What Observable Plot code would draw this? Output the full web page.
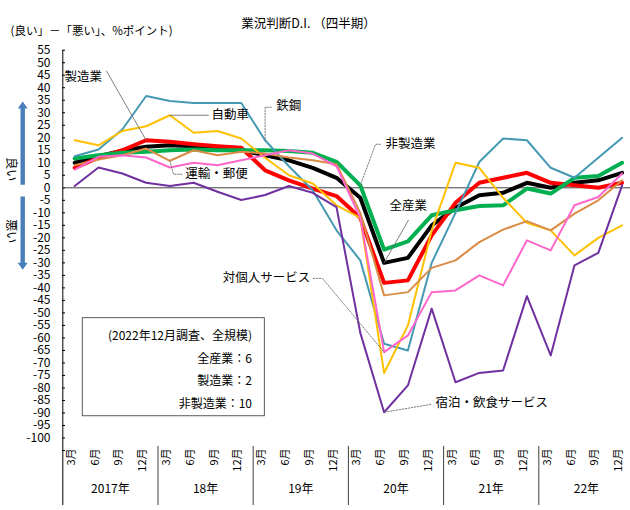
<!DOCTYPE html>
<html><head><meta charset="utf-8">
<script src="https://cdn.jsdelivr.net/npm/d3@7"></script>
<script src="https://cdn.jsdelivr.net/npm/@observablehq/plot@0.6"></script>
<style>html,body{margin:0;padding:0;background:#fff}#chart{width:630px;height:510px}</style>
</head><body><div id="chart"></div>
<script>
// ---- categories ----
const months = ["3月", "6月", "9月", "12月"];
const years = ["2017年", "18年", "19年", "20年", "21年", "22年"];
const quarters = years.flatMap((y, k) => months.map((m, j) => ({year: y, month: m, i: k * months.length + j})));

// ---- series (業況判断D.I., 全規模) ----
const allIndustries = [10, 12.6, 14.8, 16.4, 17, 16.6, 15.7, 15, 13, 11, 8, 4, -4, -30, -28, -15, -8, -3, -2, 2, 0, 2, 3, 6];
const manufacturing = [8, 12, 15, 19, 18.4, 17.4, 16.6, 16, 7, 3, -0.3, -3.3, -12, -38, -37, -19, -6, 2, 4, 6, 2, 1, 0, 2];
const nonManufacturing = [11.7, 13, 14, 14.4, 15, 15.3, 15, 15, 15, 14.7, 14, 10.4, 1, -24.7, -21.4, -11, -9, -7.3, -7, -0.3, -2.3, 4, 4.7, 10];
const automobiles = [19, 17, 22.7, 24.6, 29, 22, 22.7, 19.7, 12, 5, 1.7, -7, -12, -74, -55, -17, 10, 8, -4, -14, -17, -27, -20, -15];
const ironSteel = [12.6, 15.3, 23.3, 36.7, 34.7, 33.9, 33.9, 33.9, 19, 8.6, -1, -17, -29, -62.3, -65, -30, -10, 10.3, 19.7, 19, 8, 4, 12, 20];
const transport = [9, 11.3, 13, 15.7, 10.8, 15, 13, 14.4, 13.7, 12.1, 11, 9.4, -10, -43, -41.7, -32, -29, -21.7, -16.7, -13.3, -17, -10.3, -5, 3];
const personalServices = [7.3, 12.4, 13, 12.1, 8.1, 10, 9, 11, 13, 15, 13.7, 8.6, -12, -65.7, -59, -41.7, -41, -35, -39, -21, -25, -7, -3.7, 5.7];
const accommodation = [0.7, 8.1, 5.7, 2, 0.7, 2, -1.6, -4.9, -2.9, 0.7, -2, -7.7, -58, -89.7, -79, -48.3, -77.7, -74, -73, -43.3, -67, -31, -26, 1];

const yTicks = d3.range(-100, 56, 5);

const series = [
  {name: "全産業", values: allIndustries, color: "#000000", width: 4},
  {name: "製造業", values: manufacturing, color: "#FF0000", width: 4},
  {name: "非製造業", values: nonManufacturing, color: "#00B050", width: 4},
  {name: "鉄鋼", values: ironSteel, color: "#4599B3", width: 2},
  {name: "自動車", values: automobiles, color: "#FFC000", width: 2},
  {name: "運輸・郵便", values: transport, color: "#DA8B45", width: 2},
  {name: "対個人サービス", values: personalServices, color: "#FF66CC", width: 2},
  {name: "宿泊・飲食サービス", values: accommodation, color: "#7030A0", width: 2}
];

// ---- annotations (label position in data units, leader to a series point) ----
const annotations = [
  {text: "製造業", x: -0.43, y: 44.2, anchor: "start", leader: [[1.34, 46.6], [3, manufacturing[3]]], dash: null},
  {text: "自動車", x: 5.75, y: automobiles[4] + 0.2, anchor: "start", leader: [[4, automobiles[4]], [5.62, automobiles[4]]], dash: null},
  {text: "鉄鋼", x: 8.47, y: 32.6, anchor: "start", leader: [[8.26, 32.2], [8.0, 32.2], [8.0, ironSteel[8]]], dash: "1.5,1.5"},
  {text: "運輸・郵便", x: 4.65, y: 5.4, anchor: "start", leader: [[4, transport[4]], [4.15, 5.4], [4.53, 5.4]], dash: "1.5,1.5"},
  {text: "非製造業", x: 13.06, y: 17.4, anchor: "start", leader: [[12.85, 17.4], [12.64, 17.4], [12, nonManufacturing[12]]], dash: "1.5,1.5"},
  {text: "全産業", x: 13.23, y: -7.4, anchor: "start", leader: [[14.02, -13], [13, allIndustries[13]]], dash: null},
  {text: "対個人サービス", x: 9.9, y: -36.2, anchor: "end", leader: [[10.03, -36.2], [10.41, -36.2], [13, personalServices[13]]], dash: "1.5,1.5"},
  {text: "宿泊・飲食サービス", x: 15.16, y: -86.2, anchor: "start", leader: [[14.95, -86.6], [13, accommodation[13]]], dash: "1.5,1.5"}
];

const noteBox = {x1: 0.34, x2: 7.99, y1: -52.1, y2: -91.3};
const noteLines = [
  {text: "(2022年12月調査、全規模)", y: -59.4},
  {text: "全産業：6", y: -68.3},
  {text: "製造業：2", y: -77.4},
  {text: "非製造業：10", y: -86.6}
];
const noteX = 7.45;

const sideArrows = [{from: 1, to: 34.3}, {from: -3.7, to: -33}];
const sideLabels = [{text: "良い", y: 12.2}, {text: "悪い", y: -12.6}];

const FONT = "'Noto Sans CJK JP', 'Noto Sans', sans-serif";

function arrowMark(index, scales) {
  const ns = "http://www.w3.org/2000/svg";
  const g = document.createElementNS(ns, "g");
  for (const a of sideArrows) {
    const yt = scales.y(a.from), yh = scales.y(a.to);
    const dir = Math.sign(yh - yt);
    const cx = 22.7, sw = 2.2, hw = 5, hl = 7;
    const yb = yh - dir * hl;
    const pts = [[cx - sw, yt], [cx + sw, yt], [cx + sw, yb], [cx + hw, yb], [cx, yh], [cx - hw, yb], [cx - sw, yb]];
    const p = document.createElementNS(ns, "polygon");
    p.setAttribute("points", pts.map(q => q.join(",")).join(" "));
    p.setAttribute("fill", "#4A7EBB");
    g.appendChild(p);
  }
  return g;
}

const lineMarks = series.map(s => Plot.line(s.values.map((v, i) => ({i, v})), {
  x: "i", y: "v", stroke: s.color, strokeWidth: s.width, strokeLinejoin: "round", strokeLinecap: "round"
}));

const leaderMarks = annotations.map(a => Plot.line(a.leader.map(([x, y]) => ({x, y})), {
  x: "x", y: "y", stroke: "#707070", strokeWidth: 0.9, strokeDasharray: a.dash
}));

const labelMarks = ["start", "end"].map(anchor => Plot.text(annotations.filter(a => a.anchor === anchor), {
  x: "x", y: "y", text: "text", textAnchor: anchor, fontSize: 12.5, fill: "#000"
}));

const separators = d3.range(1, years.length + 1).map(k => k * months.length - 0.5);

const chart = Plot.plot({
  width: 630, height: 510,
  marginLeft: 62, marginRight: 0, marginTop: 50, marginBottom: 5,
  x: {type: "linear", domain: [-0.5, 23.5], range: [62.3, 633.5], axis: null},
  y: {domain: [-105, 55], range: [450, 49.7], axis: null},
  style: {fontFamily: FONT, background: "#fff", color: "#000", overflow: "visible"},
  marks: [
    // axis line and ticks
    Plot.ruleX([-0.5], {stroke: "#000", strokeWidth: 1}),
    Plot.ruleY([...yTicks, -105], {y: d => d, stroke: "#000", strokeWidth: 1, insetRight: 630 - 62 - 3}),
    Plot.text(yTicks, {y: d => d, text: d => String(d), frameAnchor: "left", dx: -12, textAnchor: "end", fontSize: 12, fill: "#000"}),
    Plot.ruleY([0], {stroke: "#404040", strokeWidth: 1}),
    // category axis
    Plot.ruleX(separators, {stroke: "#404040", strokeWidth: 1, insetTop: 396}),
    Plot.text(quarters, {x: "i", text: "month", rotate: -90, textAnchor: "end", frameAnchor: "bottom", dy: -57, fontSize: 11, fill: "#000"}),
    Plot.text(years, {x: (d, k) => k * months.length + (months.length - 1) / 2, text: d => d, frameAnchor: "bottom", dy: -13, fontSize: 12, fill: "#000"}),
    // note box
    Plot.rect([noteBox], {x1: "x1", x2: "x2", y1: "y1", y2: "y2", fill: "#fff", stroke: "#595959", strokeWidth: 1}),
    Plot.text(noteLines, {x: () => noteX, y: "y", text: "text", textAnchor: "end", fontSize: 12, fill: "#000"}),
    // series
    ...lineMarks,
    // annotations
    ...leaderMarks,
    ...labelMarks,
    // title & y-label
    Plot.text(["業況判断D.I. （四半期）"], {frameAnchor: "top-left", dx: 246, dy: -31, textAnchor: "middle", fontSize: 12.5, fill: "#000"}),
    Plot.text(["(良い」－「悪い」、%ポイント)"], {frameAnchor: "top-left", dx: -52, dy: -24, textAnchor: "start", fontSize: 11.5, fill: "#000"}),
    // side arrows and labels
    arrowMark,
    Plot.text(sideLabels, {y: "y", text: "text", frameAnchor: "left", dx: -52, rotate: 90, fontSize: 12, fill: "#000"})
  ]
});
document.getElementById("chart").appendChild(chart);
</script>
</body></html>
